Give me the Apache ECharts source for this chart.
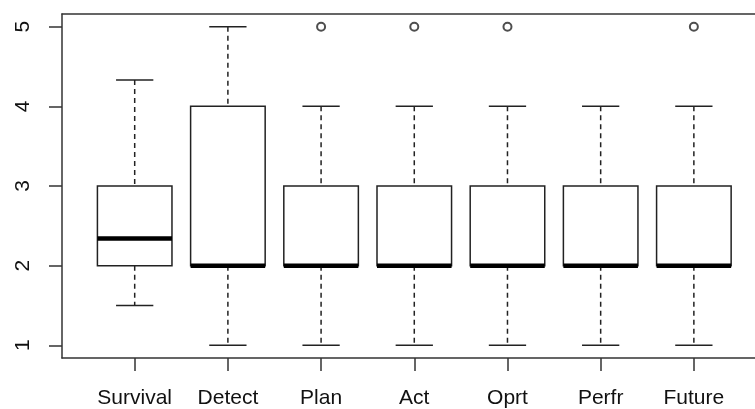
<!DOCTYPE html>
<html>
<head>
<meta charset="utf-8">
<script src="https://cdn.jsdelivr.net/npm/echarts@6/dist/echarts.min.js"></script>
<style>html,body{margin:0;padding:0;background:#fff;}#c{width:755px;height:409px;}</style>
</head>
<body>
<div id="c"></div>
<script>
const categories = ['Survival', 'Detect', 'Plan', 'Act', 'Oprt', 'Perfr', 'Future'];
const lowWhisker = [1.5, 1, 1, 1, 1, 1, 1];
const q1 = [2, 2, 2, 2, 2, 2, 2];
const median = [2.34, 2, 2, 2, 2, 2, 2];
const q3 = [3, 4, 3, 3, 3, 3, 3];
const highWhisker = [4.33, 5, 4, 4, 4, 4, 4];
const outlierCategory = ['Plan', 'Act', 'Oprt', 'Future'];
const outlierValue = [5, 5, 5, 5];
const yTicks = [1, 2, 3, 4, 5];

const boxData = categories.map((c, i) => [i + 1, lowWhisker[i], q1[i], median[i], q3[i], highWhisker[i]]);
const outlierData = outlierCategory.map((c, i) => [categories.indexOf(c) + 1, outlierValue[i]]);
const xTicks = categories.map((c, i) => i + 1);

const LINE = '#222';
const AXIS = '#333';
const FONT = 'Liberation Sans, Arial, sans-serif';

const chart = echarts.init(document.getElementById('c'), null, {renderer: 'canvas'});
chart.setOption({
  animation: false,
  backgroundColor: '#fff',
  grid: {left: 62, top: 14, right: 0, height: 345, show: false},
  xAxis: [{
    type: 'value', min: 0.22, max: 7.656,
    splitLine: {show: false},
    axisLine: {show: true, onZero: false, lineStyle: {color: AXIS, width: 1.5}},
    axisTick: {show: true, customValues: xTicks, length: 13, lineStyle: {color: AXIS, width: 1.5}},
    axisLabel: {customValues: xTicks, formatter: v => categories[Math.round(v) - 1] || '', margin: 30,
      fontSize: 21, color: '#111', fontFamily: FONT}
  }, {
    type: 'value', position: 'top', min: 0.22, max: 7.656,
    splitLine: {show: false},
    axisLine: {show: true, onZero: false, lineStyle: {color: AXIS, width: 1.5}},
    axisTick: {show: false}, axisLabel: {show: false}
  }],
  yAxis: {
    type: 'value', min: 0.84, max: 5.16,
    splitLine: {show: false},
    axisLine: {show: true, onZero: false, lineStyle: {color: AXIS, width: 1.5}},
    axisTick: {show: true, customValues: yTicks, length: 13, lineStyle: {color: AXIS, width: 1.5}},
    axisLabel: {customValues: yTicks, rotate: 90, margin: 28, fontSize: 21, color: '#111', fontFamily: FONT}
  },
  series: [
    {
      type: 'custom',
      data: boxData,
      renderItem: function (params, api) {
        const x = api.value(0), lo = api.value(1), a = api.value(2), m = api.value(3), b = api.value(4), hi = api.value(5);
        const hw = 0.4, cw = 0.2;
        const P = (u, v) => api.coord([u, v]);
        const tl = P(x - hw, b), br = P(x + hw, a);
        const cx = P(x, 0)[0];
        const children = [];
        const dash = {stroke: LINE, lineWidth: 1.5, lineDash: [5, 4]};
        const solid = {stroke: LINE, lineWidth: 1.5};
        children.push({type: 'line', shape: {x1: cx, y1: P(x, hi)[1], x2: cx, y2: tl[1]}, style: dash});
        children.push({type: 'line', shape: {x1: cx, y1: br[1], x2: cx, y2: P(x, lo)[1]}, style: dash});
        children.push({type: 'line', shape: {x1: P(x - cw, hi)[0], y1: P(x, hi)[1], x2: P(x + cw, hi)[0], y2: P(x, hi)[1]}, style: solid});
        children.push({type: 'line', shape: {x1: P(x - cw, lo)[0], y1: P(x, lo)[1], x2: P(x + cw, lo)[0], y2: P(x, lo)[1]}, style: solid});
        children.push({type: 'rect', shape: {x: tl[0], y: tl[1], width: br[0] - tl[0], height: br[1] - tl[1]}, style: {fill: '#fff', stroke: LINE, lineWidth: 1.5}});
        const my = P(x, m)[1];
        children.push({type: 'line', shape: {x1: tl[0], y1: my, x2: br[0], y2: my}, style: {stroke: '#000', lineWidth: 4.5}});
        return {type: 'group', children: children};
      },
      silent: true
    },
    {
      type: 'scatter',
      data: outlierData,
      symbol: 'emptyCircle',
      symbolSize: 8,
      itemStyle: {color: LINE, borderColor: LINE, borderWidth: 1.2},
      silent: true
    }
  ]
});
</script>
</body>
</html>
